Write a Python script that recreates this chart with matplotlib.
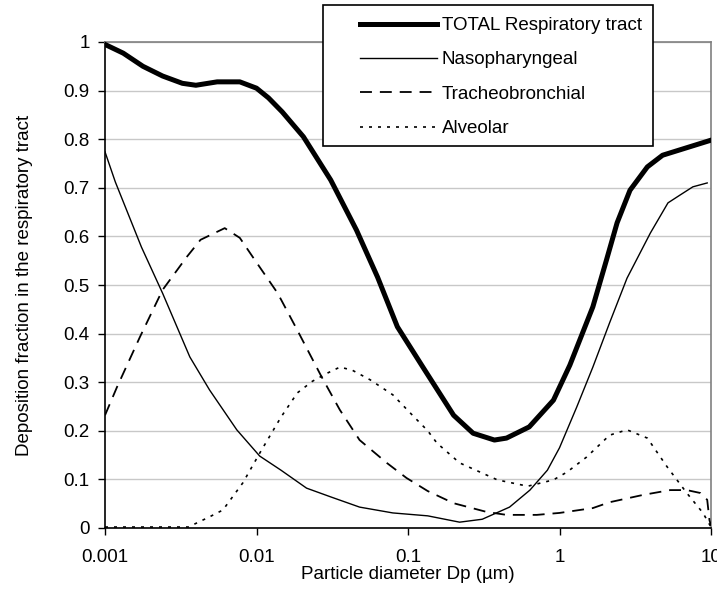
import matplotlib
matplotlib.use("Agg")
import matplotlib.pyplot as plt
from matplotlib.patches import Rectangle
from matplotlib.ticker import FixedLocator, FixedFormatter

plt.rcParams["font.family"] = ["Liberation Sans Narrow", "Liberation Sans", "DejaVu Sans"]

# particle diameter (um) and deposition fraction
total_dp = [0.001, 0.00132, 0.00178, 0.0024, 0.00324, 0.00398, 0.0055, 0.00776,
            0.01, 0.012, 0.0148, 0.0204, 0.0309, 0.0457, 0.063, 0.0851, 0.126,
            0.2, 0.269, 0.372, 0.447, 0.631, 0.912, 1.17, 1.66, 2.04, 2.4,
            2.92, 3.8, 4.79, 10.0]
total_df = [0.995, 0.977, 0.95, 0.93, 0.915, 0.911, 0.918, 0.918,
            0.905, 0.885, 0.856, 0.805, 0.716, 0.613, 0.516, 0.414, 0.33,
            0.232, 0.195, 0.181, 0.185, 0.208, 0.263, 0.335, 0.455, 0.551, 0.628,
            0.695, 0.743, 0.767, 0.798]

naso_dp = [0.001, 0.00117, 0.00174, 0.0024, 0.00363, 0.0049, 0.00741, 0.0105,
           0.0145, 0.0214, 0.0309, 0.0479, 0.0794, 0.135, 0.219, 0.309, 0.468,
           0.638, 0.832, 1.0, 1.3, 1.66, 2.14, 2.79, 3.98, 5.2, 6.24, 7.59, 9.44]
naso_df = [0.774, 0.712, 0.578, 0.483, 0.352, 0.284, 0.202, 0.148,
           0.119, 0.082, 0.064, 0.043, 0.031, 0.025, 0.012, 0.018, 0.043,
           0.078, 0.119, 0.165, 0.249, 0.331, 0.422, 0.514, 0.607, 0.669, 0.685, 0.702, 0.710]

tb_dp = [0.001, 0.0012, 0.0017, 0.0024, 0.00347, 0.00427, 0.00617, 0.00776,
         0.00977, 0.0138, 0.0186, 0.0269, 0.0355, 0.0479, 0.0724, 0.0977, 0.135,
         0.2, 0.331, 0.447, 0.708, 1.0, 1.66, 2.14, 3.55, 5.37, 6.92, 8.51,
         9.44, 9.77, 10.0]
tb_df = [0.232, 0.29, 0.393, 0.49, 0.558, 0.593, 0.617, 0.597,
         0.551, 0.483, 0.407, 0.311, 0.243, 0.181, 0.134, 0.103, 0.076,
         0.051, 0.033, 0.027, 0.027, 0.031, 0.041, 0.053, 0.068, 0.078, 0.078, 0.072,
         0.058, 0.016, 0.005]

alv_dp = [0.001, 0.002, 0.00355, 0.0049, 0.006, 0.00813, 0.0105, 0.0145,
          0.0186, 0.0234, 0.0295, 0.0355, 0.0427, 0.0562, 0.0794, 0.107, 0.135,
          0.155, 0.219, 0.389, 0.617, 0.912, 1.12, 1.51, 2.14, 2.79, 3.8, 5.13,
          6.92, 8.85, 10.0]
alv_df = [0.002, 0.002, 0.002, 0.023, 0.037, 0.093, 0.154, 0.228,
          0.278, 0.302, 0.319, 0.331, 0.325, 0.305, 0.274, 0.232, 0.20,
          0.175, 0.134, 0.099, 0.086, 0.099, 0.115, 0.146, 0.191, 0.202, 0.185, 0.126,
          0.072, 0.031, 0.002]

xticks = [0.001, 0.01, 0.1, 1, 10]
xtick_labels = ["0.001", "0.01", "0.1", "1", "10"]
yticks = [0, 0.1, 0.2, 0.3, 0.4, 0.5, 0.6, 0.7, 0.8, 0.9, 1.0]
ytick_labels = ["0", "0.1", "0.2", "0.3", "0.4", "0.5", "0.6", "0.7", "0.8", "0.9", "1"]

FS = 13.5

fig = plt.figure(figsize=(7.17, 5.9), dpi=100)
ax = fig.add_axes([105 / 717, 1 - 528 / 590, 606 / 717, 486 / 590])

ax.plot(total_dp, total_df, color="black", lw=3.6, solid_joinstyle="round",
        label="TOTAL Respiratory tract", zorder=4)
ax.plot(naso_dp, naso_df, color="black", lw=1.0, label="Nasopharyngeal", zorder=3)
ax.plot(tb_dp, tb_df, color="black", lw=1.3, dashes=(6.6, 4.4),
        label="Tracheobronchial", zorder=3)
ax.plot(alv_dp, alv_df, color="black", lw=1.2, dashes=(1.8, 3.6),
        label="Alveolar", zorder=3)

ax.set_xscale("log")
ax.set_xlim(0.001, 10)
ax.set_ylim(0, 1)
ax.xaxis.set_major_locator(FixedLocator(xticks))
ax.xaxis.set_major_formatter(FixedFormatter(xtick_labels))
ax.xaxis.set_minor_locator(FixedLocator([]))
ax.yaxis.set_major_locator(FixedLocator(yticks))
ax.yaxis.set_major_formatter(FixedFormatter(ytick_labels))

ax.grid(axis="y", color="#c8c8c8", lw=1.0)
ax.set_axisbelow(True)
for side in ("top", "right"):
    ax.spines[side].set_color("#808080")
    ax.spines[side].set_linewidth(1.2)
for side in ("left", "bottom"):
    ax.spines[side].set_color("black")
    ax.spines[side].set_linewidth(1.2)
ax.tick_params(axis="both", direction="out", length=5, width=1.0,
               labelsize=FS, pad=6)
ax.tick_params(axis="x", pad=10)

ax.set_xlabel("Particle diameter Dp (µm)", fontsize=FS, labelpad=0)
ax.set_ylabel("Deposition fraction in the respiratory tract", fontsize=FS, labelpad=22)

# legend box drawn separately so handles sit inset like the original
box = Rectangle((323 / 717, 1 - 146 / 590), 330 / 717, 141 / 590,
                transform=fig.transFigure, facecolor="white", edgecolor="black",
                lw=1.2, zorder=4)
fig.patches.append(box)
leg = fig.legend(loc="upper left", bbox_to_anchor=(360 / 717, 1 - 17 / 590),
                 fontsize=FS, handlelength=4.1, handletextpad=0.27,
                 labelspacing=0.92, borderpad=0, borderaxespad=0, frameon=False)
leg.set_zorder(5)

fig.savefig("out.png", dpi=100)
